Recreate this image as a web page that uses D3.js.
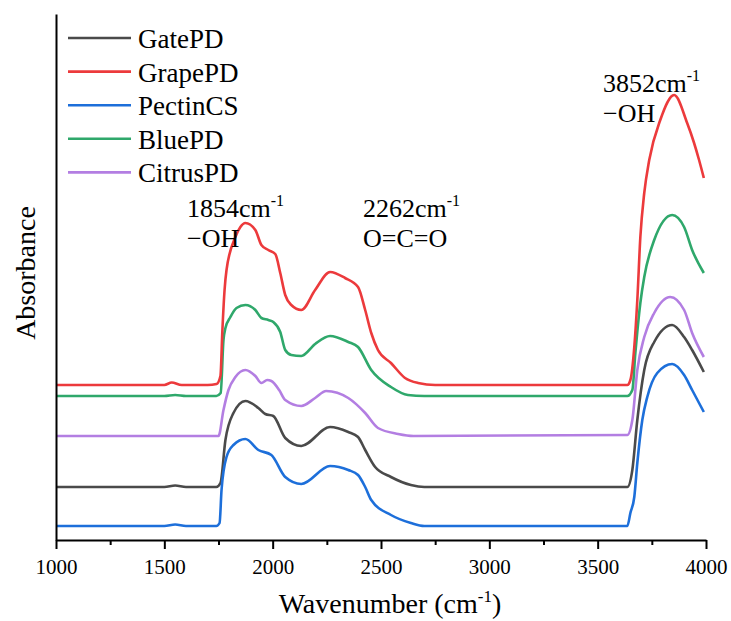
<!DOCTYPE html>
<html lang="en">
<head>
    <meta charset="UTF-8">
    <title>FTIR Absorbance</title>
    <script src="https://d3js.org/d3.v7.min.js"></script>
    <style>
        body { margin: 0; background: #fff; }
        .line { fill: none; stroke-width: 2.6px; stroke-linejoin: round; }
    </style>
</head>
<body>
    <svg id="chart" width="731" height="621"></svg>
    <script>
        const FONT = "'Liberation Serif'";

        // series names in legend order and their colours
        const names = ["GatePD", "GrapePD", "PectinCS", "BluePD", "CitrusPD"];
        const colors = ["#4a4a4a", "#ec3a3c", "#1d6fda", "#2fa86b", "#b37ee2"];

        // [wavenumber, absorbance] (arbitrary offset units)
        const gatePD = [[1000,0.53],[1500,0.53],[1550,0.545],[1600,0.53],[1740,0.53],[1759,0.57],[1782,1.00],[1819,1.27],[1874,1.39],[1934,1.32],[1966,1.26],[2003,1.24],[2058,1.02],[2132,0.94],[2265,1.13],[2349,1.08],[2394,1.03],[2427,0.90],[2473,0.73],[2546,0.63],[2638,0.55],[2700,0.53],[3637,0.53],[3660,0.70],[3683,1.20],[3715,1.70],[3761,1.98],[3844,2.15],[3899,2.03],[3936,1.90],[3990,1.68]];
        const grapePD = [[1000,1.55],[1500,1.55],[1534,1.575],[1580,1.55],[1700,1.55],[1741,1.56],[1759,1.64],[1768,2.10],[1778,2.50],[1787,2.70],[1828,3.03],[1851,3.13],[1874,3.17],[1920,3.10],[1948,2.95],[1980,2.90],[2012,2.86],[2035,2.67],[2058,2.45],[2086,2.35],[2132,2.30],[2196,2.50],[2265,2.68],[2334,2.62],[2394,2.53],[2427,2.30],[2455,2.07],[2486,1.90],[2546,1.77],[2611,1.62],[2671,1.57],[2750,1.55],[3637,1.55],[3651,1.60],[3669,1.93],[3683,2.40],[3697,3.03],[3715,3.47],[3738,3.80],[3789,4.20],[3853,4.45],[3913,4.17],[3945,3.97],[3968,3.80],[3990,3.62]];
        const pectinCS = [[1000,0.14],[1500,0.14],[1550,0.155],[1600,0.14],[1740,0.14],[1755,0.17],[1764,0.50],[1787,0.83],[1819,0.95],[1874,1.01],[1934,0.90],[1994,0.85],[2058,0.63],[2132,0.56],[2265,0.74],[2349,0.70],[2394,0.65],[2427,0.53],[2455,0.40],[2546,0.25],[2638,0.17],[2700,0.14],[3637,0.14],[3651,0.27],[3669,0.43],[3683,0.77],[3706,1.20],[3729,1.43],[3775,1.67],[3844,1.76],[3899,1.65],[3936,1.50],[3990,1.28]];
        const bluePD = [[1000,1.44],[1500,1.44],[1550,1.45],[1600,1.44],[1740,1.44],[1760,1.47],[1773,2.00],[1782,2.12],[1805,2.23],[1833,2.32],[1874,2.35],[1920,2.30],[1948,2.22],[1980,2.20],[2003,2.18],[2035,2.08],[2058,1.90],[2086,1.85],[2132,1.84],[2196,1.96],[2265,2.04],[2349,1.98],[2394,1.93],[2455,1.70],[2546,1.53],[2624,1.45],[2700,1.44],[3637,1.44],[3660,1.50],[3674,1.87],[3697,2.37],[3715,2.63],[3761,3.00],[3844,3.25],[3899,3.13],[3936,2.90],[3990,2.67]];
        const citrusPD = [[1000,1.04],[1740,1.04],[1750,1.04],[1773,1.30],[1796,1.50],[1828,1.63],[1874,1.70],[1920,1.64],[1948,1.57],[1975,1.60],[1994,1.59],[2030,1.50],[2058,1.40],[2132,1.34],[2196,1.42],[2247,1.49],[2349,1.42],[2427,1.27],[2486,1.12],[2579,1.06],[2650,1.04],[3637,1.05],[3660,1.20],[3683,1.70],[3715,2.03],[3761,2.27],[3835,2.43],[3899,2.30],[3936,2.07],[3990,1.83]];
        const series = [gatePD, grapePD, pectinCS, bluePD, citrusPD];

        const xTicks = [1000, 1500, 2000, 2500, 3000, 3500, 4000];
        const xMinor = [1250, 1750, 2250, 2750, 3250, 3750];

        const svg = d3.select("#chart");

        const x = d3.scaleLinear().domain([1000, 4000]).range([56, 706]);
        const y = d3.scaleLinear().domain([0, 5.26]).range([540, 14]);

        const line = d3.line()
            .x(d => x(d[0]))
            .y(d => y(d[1]))
            .curve(d3.curveMonotoneX);

        // draw lines back to front
        [4, 3, 0, 2, 1].forEach(i => {
            svg.append("path")
                .datum(series[i])
                .attr("class", "line")
                .attr("d", line)
                .style("stroke", colors[i]);
        });

        // minor ticks
        svg.append("g")
            .attr("transform", "translate(0,540)")
            .call(d3.axisBottom(x).tickValues(xMinor).tickSize(5).tickFormat(""))
            .call(g => g.select(".domain").remove())
            .call(g => g.selectAll("line").attr("stroke-width", 2));

        // bottom axis
        svg.append("g")
            .attr("transform", "translate(0,540)")
            .call(d3.axisBottom(x).tickValues(xTicks).tickSize(9).tickSizeOuter(0).tickPadding(10).tickFormat(d3.format("d")))
            .call(g => g.select(".domain").attr("stroke-width", 2))
            .call(g => g.selectAll("line").attr("stroke-width", 2))
            .call(g => g.selectAll("text")
                .style("font-family", FONT)
                .style("font-size", "21px")
                .attr("fill", "#000"));

        // left axis, no ticks
        svg.append("g")
            .attr("transform", "translate(56,0)")
            .call(d3.axisLeft(y).tickValues([]).tickSizeOuter(0))
            .call(g => g.select(".domain").attr("stroke-width", 2));

        // axis titles
        const xt = svg.append("text")
            .attr("x", 390)
            .attr("y", 613)
            .attr("text-anchor", "middle")
            .style("font-family", FONT)
            .style("font-size", "28px");
        xt.append("tspan").text("Wavenumber (cm");
        xt.append("tspan").style("font-size", "17px").attr("dy", -11).text("-1");
        xt.append("tspan").attr("dy", 11).text(")");

        svg.append("text")
            .attr("transform", "translate(35,273) rotate(-90)")
            .attr("text-anchor", "middle")
            .style("font-family", FONT)
            .style("font-size", "28px")
            .text("Absorbance");

        // legend
        const legend = svg.append("g");
        names.forEach((name, i) => {
            const ly = 38 + i * 33.6;
            legend.append("line")
                .attr("x1", 68).attr("x2", 131)
                .attr("y1", ly).attr("y2", ly)
                .attr("stroke", colors[i])
                .attr("stroke-width", 2.6);
            legend.append("text")
                .attr("x", 138)
                .attr("y", ly + 10)
                .style("font-family", FONT)
                .style("font-size", "27px")
                .text(name);
        });

        // peak notes
        function note(px, py, num, label) {
            const t = svg.append("text").attr("x", px).attr("y", py)
                .style("font-family", FONT).style("font-size", "26px");
            t.append("tspan").text(num + "cm");
            t.append("tspan").style("font-size", "16px").attr("dy", -11).text("-1");
            svg.append("text")
                .attr("x", px).attr("y", py + 30)
                .style("font-family", FONT).style("font-size", "26px")
                .text(label);
        }
        note(187, 217, "1854", "\u2212OH");
        note(363, 217, "2262", "O=C=O");
        note(603, 92, "3852", "\u2212OH");
    </script>
</body>
</html>
